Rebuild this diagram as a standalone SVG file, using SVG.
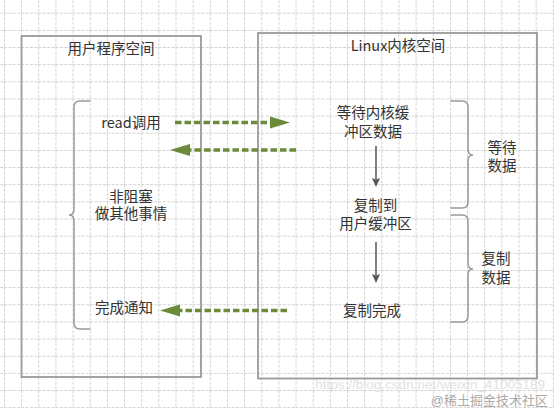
<svg xmlns="http://www.w3.org/2000/svg" width="554" height="408" viewBox="0 0 554 408">
<defs>
<pattern id="grid" patternUnits="userSpaceOnUse" x="4" y="12.7" width="17.15" height="17.15">
<path d="M0 0.5H17.15M0.5 0V17.15" fill="none" stroke="#d0d0d0" stroke-width="1" stroke-dasharray="3 1.5"/>
</pattern>
<marker id="ga" markerUnits="userSpaceOnUse" markerWidth="22" markerHeight="14" viewBox="0 0 22 14" refX="2" refY="7" orient="auto">
<path d="M0 1 L20 7 L0 13 Z" fill="#6b8a3a"/>
</marker>
<marker id="ka" markerUnits="userSpaceOnUse" markerWidth="10" markerHeight="10" viewBox="0 0 10 10" refX="1" refY="5" orient="auto">
<path d="M0 1 L9 5 L0 9 L1.5 5 Z" fill="#555"/>
</marker>
<style>
.box{fill:none;stroke:#9a9a9a;stroke-width:1.8}
.brace{fill:none;stroke:#999;stroke-width:1.5}
.t{font-family:"Noto Sans CJK SC","Noto Sans",sans-serif;font-size:14.5px;fill:#333;text-anchor:middle}
.m{font-family:"Liberation Sans","Noto Sans CJK SC",sans-serif;font-size:14.5px;fill:#333;text-anchor:middle}
.g{fill:none;stroke:#6b8a3a;stroke-width:3.6;stroke-dasharray:6.5 3}
.k{fill:none;stroke:#555;stroke-width:1.5}
</style>
</defs>
<rect width="554" height="408" fill="#fff"/>
<rect width="554" height="408" fill="url(#grid)"/>
<g id="user-space">
<rect class="box" x="21.5" y="36" width="179.5" height="341"/>
<text class="t" x="111" y="54.3">用户程序空间</text>
</g>
<g id="kernel-space">
<rect class="box" x="258" y="33" width="279" height="345.5"/>
<text class="t" x="398" y="51.3">Linux内核空间</text>
</g>
<g id="user-brace">
<path class="brace" d="M90.5 101 H80 Q74 101 74 107 V209 Q74 215 69 215 Q74 215 74 221 V323 Q74 329 80 329 H90.5"/>
</g>
<g id="read-call"><text class="t" x="131" y="127.6">read调用</text></g>
<g id="nonblock"><text class="m" x="131" y="201.8">非阻塞</text><text class="m" x="131" y="219.3">做其他事情</text></g>
<g id="done-notify"><text class="t" x="124" y="313.3">完成通知</text></g>
<g id="wait-kernel"><text class="m" x="373" y="118.3">等待内核缓</text><text class="m" x="373" y="136.8">冲区数据</text></g>
<g id="copy-user"><text class="m" x="375.5" y="211">复制到</text><text class="m" x="375.5" y="228.6">用户缓冲区</text></g>
<g id="copy-done"><text class="t" x="372" y="316">复制完成</text></g>
<g id="wait-brace">
<path class="brace" d="M450.5 101 H462 Q468 101 468 107 V149 Q468 155 473 155 Q468 155 468 161 V202 Q468 208 462 208 H450.5"/>
<text class="m" x="502" y="152.6">等待</text><text class="m" x="502" y="171.3">数据</text>
</g>
<g id="copy-brace">
<path class="brace" d="M450.5 215 H462 Q468 215 468 221 V263 Q468 269 473 269 Q468 269 468 275 V316 Q468 322 462 322 H450.5"/>
<text class="m" x="496" y="264.3">复制</text><text class="m" x="496" y="282.6">数据</text>
</g>
<g id="connectors">
<path class="g" d="M175 122.5 H272" marker-end="url(#ga)"/>
<path class="g" d="M296 150 H188" marker-end="url(#ga)"/>
<path class="g" d="M287 310.5 H178" marker-end="url(#ga)"/>
<path class="k" d="M376 146 V179" marker-end="url(#ka)"/>
<path class="k" d="M376 242 V275" marker-end="url(#ka)"/>
</g>
<g id="watermark">
<text x="545" y="388.8" font-family="Liberation Sans, sans-serif" font-size="13.5" fill="#e2e2e2" text-anchor="end">https://blog.csdn.net/weixin_41005189</text>
<text x="548" y="404.5" font-family="Liberation Sans, Noto Sans CJK SC, sans-serif" font-size="13" fill="#aaa" text-anchor="end">@稀土掘金技术社区</text>
</g>
</svg>
